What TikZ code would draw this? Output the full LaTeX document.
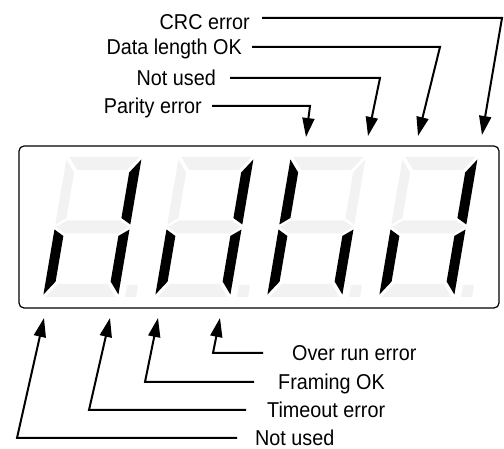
\documentclass[tikz,border=0pt]{standalone}
\usepackage{fontspec}
\usepackage{graphicx}
\setmainfont{Liberation Sans}
\usetikzlibrary{arrows.meta}
\tikzset{
  on/.style={fill=black},
  off/.style={fill=black!5},
  conn/.style={line width=2pt, -{Triangle[length=19pt,width=12pt]}},
  lbl/.style={font=\fontsize{21.5}{26}\selectfont, inner sep=0pt},
  frame/.style={draw, line width=1.2pt, rounded corners=5pt, inner sep=0pt},
}
\newcommand\lbltext[1]{\scalebox{0.92}[1]{#1}}
\newcommand\sevdigit[8]{%
  \begin{scope}[shift={(#1,152)},xslant=0.17]
    \fill[#2] (2.5,140)--(72.5,140)--(62.5,127)--(12.5,127)--cycle;
    \fill[#3] (75,72.5)--(75,137.5)--(65,124.5)--(65,79)--cycle;
    \fill[#4] (75,2.5)--(75,67.5)--(65,61)--(65,15.5)--cycle;
    \fill[#5] (2.5,0)--(72.5,0)--(62.5,13)--(12.5,13)--cycle;
    \fill[#6] (0,2.5)--(0,67.5)--(10,61)--(10,15.5)--cycle;
    \fill[#7] (0,72.5)--(0,137.5)--(10,124.5)--(10,79)--cycle;
    \fill[#8] (1,70)--(11,76.5)--(64,76.5)--(74,70)--(64,63.5)--(11,63.5)--cycle;
    \fill[off] (82,0)--(93,0)--(93,12)--(82,12)--cycle;
  \end{scope}}
\begin{document}
\begin{tikzpicture}[x=1pt,y=1pt]
\useasboundingbox (0,0) rectangle (504,449);
\node[frame, minimum width=480pt, minimum height=162pt] (display) at (259,222) {};
% digits: a b c d e f g
\sevdigit{43}{off}{on}{on}{off}{on}{off}{off}
\sevdigit{155}{off}{on}{on}{off}{on}{off}{off}
\sevdigit{267}{off}{off}{on}{off}{on}{on}{off}
\sevdigit{379}{off}{on}{on}{off}{on}{off}{off}
% top labels
\node[lbl, anchor=base east] (crc) at (250,419.3) {\lbltext{CRC error}};
\node[lbl, anchor=base east] (dlen) at (242,394.3) {\lbltext{Data length OK}};
\node[lbl, anchor=base east] (nu1) at (216,363.3) {\lbltext{Not used}};
\node[lbl, anchor=base east] (par) at (202,335.3) {\lbltext{Parity error}};
\coordinate (crcC) at (502,431);  \coordinate (crcT) at (482,314);
\coordinate (dlenC) at (440,402); \coordinate (dlenT) at (418,313);
\coordinate (nu1C) at (380,371);  \coordinate (nu1T) at (368,313);
\coordinate (parC) at (310,343);  \coordinate (parT) at (306,312);
\draw[conn] ([shift={(12pt,11.7pt)}]crc.base east) -- (crcC) -- (crcT);
\draw[conn] ([shift={(10pt,7.7pt)}]dlen.base east) -- (dlenC) -- (dlenT);
\draw[conn] ([shift={(14pt,7.7pt)}]nu1.base east) -- (nu1C) -- (nu1T);
\draw[conn] ([shift={(10pt,7.7pt)}]par.base east) -- (parC) -- (parT);
% bottom labels
\node[lbl, anchor=base west] (ovr) at (292,88.3) {\lbltext{Over run error}};
\node[lbl, anchor=base west] (frm) at (278,59.3) {\lbltext{Framing OK}};
\node[lbl, anchor=base west] (tmo) at (267,31.3) {\lbltext{Timeout error}};
\node[lbl, anchor=base west] (nu2) at (255,3.3) {\lbltext{Not used}};
\coordinate (ovrC) at (213,96); \coordinate (ovrT) at (220,131);
\coordinate (frmC) at (145,67); \coordinate (frmT) at (158,131);
\coordinate (tmoC) at (89,39);  \coordinate (tmoT) at (110,131);
\coordinate (nu2C) at (17,11);  \coordinate (nu2T) at (44,131);
\draw[conn] ([shift={(-29pt,7.7pt)}]ovr.base west) -- (ovrC) -- (ovrT);
\draw[conn] ([shift={(-24pt,7.7pt)}]frm.base west) -- (frmC) -- (frmT);
\draw[conn] ([shift={(-21pt,7.7pt)}]tmo.base west) -- (tmoC) -- (tmoT);
\draw[conn] ([shift={(-18pt,7.7pt)}]nu2.base west) -- (nu2C) -- (nu2T);
\end{tikzpicture}
\end{document}
